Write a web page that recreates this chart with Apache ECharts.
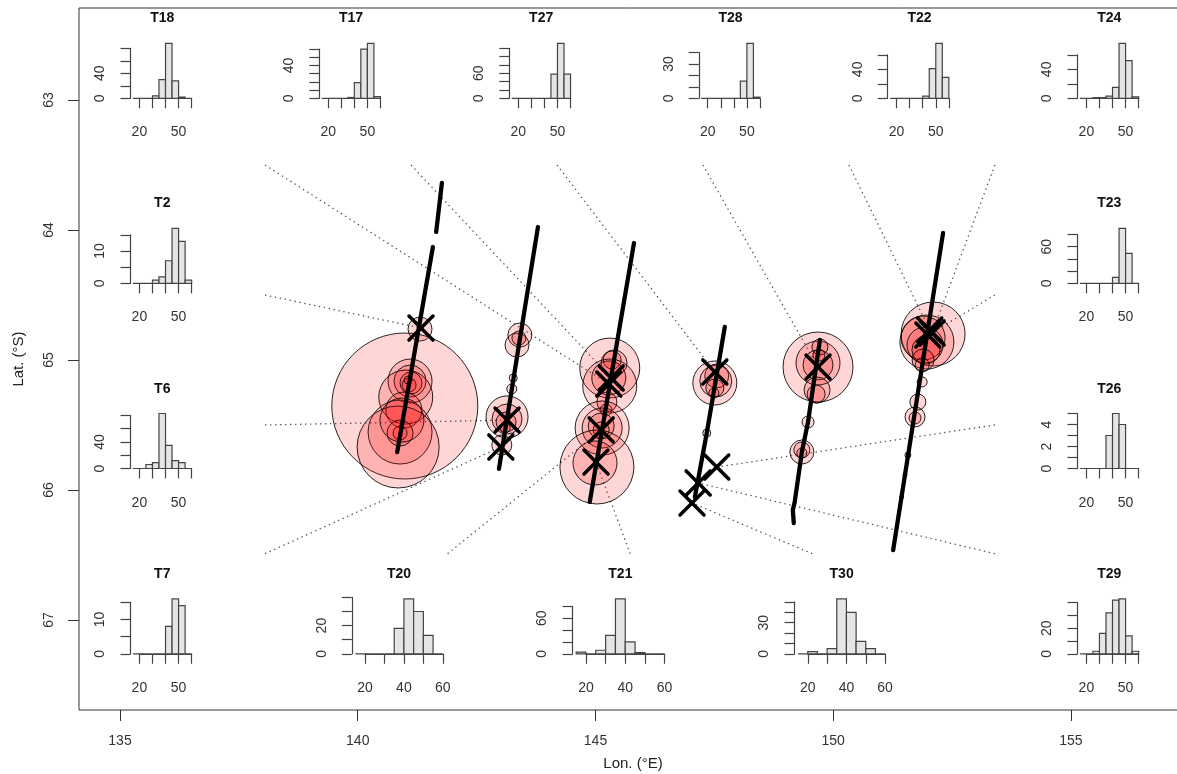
<!DOCTYPE html>
<html>
<head>
<meta charset="utf-8">
<script src="https://cdn.jsdelivr.net/npm/echarts@6/dist/echarts.min.js"></script>
<style>
html,body{margin:0;padding:0;background:#fff;}
#chart{width:1177px;height:774px;}
</style>
</head>
<body>
<div id="chart"></div>
<script>
// ---------- data ----------
// histogram bin breaks shared by every station
const binBreaks = [15, 20, 25, 30, 35, 40, 45, 50, 55, 60];
// counts per bin
const hT18 = [0, 0, 0, 4, 30, 88, 28, 2, 0];
const hT17 = [0, 0, 0, 0, 1, 19, 60, 67, 2];
const hT27 = [0, 0, 0, 0, 0, 0, 58, 132, 58];
const hT28 = [0, 0, 0, 0, 0, 0, 15, 48, 1];
const hT22 = [0, 0, 0, 0, 0, 3, 41, 76, 29];
const hT24 = [0, 0, 1, 1, 3, 15, 76, 52, 2];
const hT2  = [0, 0, 0, 1, 2, 7, 17, 13, 1];
const hT6  = [0, 0, 6, 9, 83, 35, 12, 9, 0];
const hT23 = [0, 0, 0, 0, 0, 10, 90, 49, 0];
const hT26 = [0, 0, 0, 0, 3, 5, 4, 0, 0];
const hT7  = [0, 0, 0, 0, 0, 8, 16, 14, 0];
const hT20 = [0, 0, 0, 0, 18, 39, 30, 13, 0];
const hT21 = [3, 0, 6, 31, 93, 20, 2, 0, 0];
const hT30 = [0, 2, 0, 5, 53, 40, 12, 5, 0];
const hT29 = [0, 0, 2, 16, 32, 42, 43, 14, 2];

const stationNames = ['T18','T17','T27','T28','T22','T24','T2','T6','T23','T26','T7','T20','T21','T30','T29'];
const stationHists = [hT18, hT17, hT27, hT28, hT22, hT24, hT2, hT6, hT23, hT26, hT7, hT20, hT21, hT30, hT29];
// sampling positions (lon °E, lat °S)
const stationLon = [145.28, 145.33, 147.51, 149.68, 152.03, 152.08, 141.33, 143.14, 151.99, 147.55, 143.01, 145.12, 145.01, 147.03, 147.16];
const stationLat = [65.185, 65.138, 65.092, 65.054, 64.769, 64.792, 64.754, 65.462, 64.808, 65.823, 65.669, 65.538, 65.785, 66.100, 65.946];
// where each station's leader line starts
const leaderLon = [138.05, 141.12, 144.19, 147.26, 150.33, 153.40, 138.05, 138.05, 153.40, 153.40, 138.05, 141.89, 145.73, 149.56, 153.40];
const leaderLat = [63.5, 63.5, 63.5, 63.5, 63.5, 63.5, 64.5, 65.5, 64.5, 65.5, 66.49, 66.49, 66.49, 66.49, 66.49];

// y tick spacing, top tick and labelled ticks of each histogram
const yTickStep = [20, 10, 20, 10, 20, 20, 5, 20, 20, 1, 5, 10, 20, 10, 10];
const yTickTop  = [80, 60, 120, 40, 60, 60, 15, 80, 80, 5, 15, 40, 80, 50, 40];
const yTickLabels = [[0,40],[0,40],[0,60],[0,30],[0,40],[0,40],[0,10],[0,40],[0,60],[0,2,4],[0,10],[0,20],[0,60],[0,30],[0,20]];
const xTickValues = [20, 30, 40, 50, 60];
const xTickLabelsNarrow = [20, 50];
const xTickLabelsWide = [20, 40, 60];

// ship tracks (lon, lat); a track may have several pieces
const trackPieces = [
  [[141.77, 63.638], [141.65, 64.015]],
  [[141.58, 64.131], [140.83, 65.708]],
  [[143.79, 63.977], [142.97, 65.838]],
  [[145.81, 64.100], [144.88, 66.092]],
  [[147.72, 64.746], [147.34, 65.562], [147.09, 66.054]],
  [[149.72, 64.846], [149.47, 65.477], [149.34, 65.708], [149.19, 66.092], [149.15, 66.154], [149.17, 66.254]],
  [[152.31, 64.023], [151.26, 66.462]]
];

// acoustic densities along the tracks: [lon, lat, density]
const densityA = [
  [141.31,64.762,12],[140.99,65.354,73],[141.10,65.162,22],[141.10,65.162,16],[141.12,65.177,11],
  [141.08,65.192,7],[141.06,65.154,4],[141.01,65.285,27],[140.97,65.385,18],[140.89,65.554,32],
  [140.85,65.669,41],[140.89,65.562,13],[140.89,65.562,7],[140.93,65.462,22]
];
const densityB = [
  [143.41,64.808,12],[143.35,64.885,12],[143.39,64.831,7],[143.27,65.138,4],[143.24,65.223,5],
  [143.14,65.438,21],[143.14,65.454,15],[143.12,65.477,10],[143.10,65.523,5],[143.03,65.654,10]
];
const densityC = [
  [145.30,65.062,30],[145.39,65.023,13],[145.35,65.000,9],[145.30,65.200,27],[145.28,65.138,17],
  [145.24,65.323,10],[145.22,65.385,6],[145.14,65.523,27],[145.14,65.523,20],[145.12,65.508,13],
  [145.12,65.538,8],[145.03,65.823,37],[144.99,65.792,22]
];
const densityD = [
  [147.51,65.177,22],[147.55,65.123,12],[147.53,65.162,16],[147.51,65.215,9],[147.49,65.254,5],[147.34,65.562,4]
];
const densityE = [
  [149.68,65.054,35],[149.68,65.023,22],[149.68,65.038,15],[149.72,64.900,8],[149.70,64.962,6],
  [149.66,65.231,13],[149.64,65.262,9],[149.47,65.477,6],[149.34,65.708,12],[149.34,65.692,8],[149.34,65.715,5]
];
const densityF = [
  [152.10,64.800,32],[151.97,64.862,27],[151.89,64.831,22],[151.93,64.885,18],[151.95,64.923,14],
  [151.89,65.000,11],[151.87,65.038,7],[151.87,65.169,5],[151.78,65.323,8],[151.72,65.438,10],
  [151.72,65.446,6],[151.57,65.731,3],[151.51,65.885,2],[151.44,66.054,2]
];

const lonTicks = [135, 140, 145, 150, 155];
const latTicks = [63, 64, 65, 66, 67];

// ---------- layout ----------
const FONT = 'Liberation Sans, Arial, Helvetica, sans-serif';
const MAIN = { left: 79, top: 8, width: 1108, height: 702 };
const LON_RANGE = [134.138, 157.440];
const LAT_RANGE = [62.2923, 67.6923];
const INSET_H = 59.4;
const insetBox = {
  T18: [130.5, 100.5, 63.5], T17: [319.3, 100.5, 63.5], T27: [509.4, 100.5, 63.5],
  T28: [698.8, 100.5, 63.5], T22: [887.7, 100.5, 63.5], T24: [1077.5, 100.5, 63.5],
  T2:  [130.5, 285.6, 63.5], T6:  [130.5, 470.7, 63.5],
  T23: [1077.5, 285.6, 63.5], T26: [1077.5, 470.7, 63.5],
  T7:  [130.5, 656.0, 63.5], T20: [351.8, 656.0, 94.5], T21: [572.6, 656.0, 95.5],
  T30: [794.6, 656.0, 94.0], T29: [1077.5, 656.0, 63.5]
};
const wideInsets = ['T20', 'T21', 'T30'];

const axisColor = '#444';
const grids = [{ left: MAIN.left, top: MAIN.top, width: MAIN.width, height: MAIN.height,
  outerBoundsMode: 'none', containLabel: false,
  show: true, borderColor: '#333', borderWidth: 1, backgroundColor: 'transparent' }];
const xAxes = [{
  type: 'value', gridIndex: 0, min: LON_RANGE[0], max: LON_RANGE[1],
  axisLine: { show: false },
  axisTick: { show: true, customValues: lonTicks, length: 11, lineStyle: { color: '#333', width: 1 } },
  axisLabel: { show: true, customValues: lonTicks, margin: 24, fontSize: 14, color: '#333', fontFamily: FONT },
  splitLine: { show: false },
  name: 'Lon. (°E)', nameLocation: 'middle', nameGap: 46,
  nameTextStyle: { fontSize: 15, color: '#222', fontFamily: FONT }
}];
const yAxes = [{
  type: 'value', gridIndex: 0, min: LAT_RANGE[0], max: LAT_RANGE[1], inverse: true,
  axisLine: { show: false },
  axisTick: { show: true, customValues: latTicks, length: 11, lineStyle: { color: '#333', width: 1 } },
  axisLabel: { show: true, customValues: latTicks, margin: 23, rotate: 90, fontSize: 14, color: '#333', fontFamily: FONT },
  splitLine: { show: false },
  name: 'Lat. (°S)', nameLocation: 'middle', nameGap: 53, nameRotate: 90,
  nameTextStyle: { fontSize: 15, color: '#222', fontFamily: FONT }
}];
const titles = [];
const series = [];

// ---------- main map ----------
// leader lines from each histogram to its station
stationNames.forEach((nm, i) => {
  series.push({
    type: 'line', xAxisIndex: 0, yAxisIndex: 0, silent: true, symbol: 'none',
    data: [[leaderLon[i], leaderLat[i]], [stationLon[i], stationLat[i]]],
    lineStyle: { color: '#555', width: 1.3, type: [1.4, 3.6] }, z: 1
  });
});

// density bubbles
[densityA, densityB, densityC, densityD, densityE, densityF].forEach(arr => {
  series.push({
    type: 'scatter', xAxisIndex: 0, yAxisIndex: 0, silent: true,
    data: arr, symbol: 'circle', symbolSize: v => 2 * v[2],
    itemStyle: { color: 'rgba(255,0,0,0.16)', borderColor: 'rgba(0,0,0,0.85)', borderWidth: 1, opacity: 1 },
    z: 2
  });
});

// tracks
trackPieces.forEach(piece => {
  series.push({
    type: 'line', xAxisIndex: 0, yAxisIndex: 0, silent: true, symbol: 'none',
    data: piece, lineStyle: { color: '#000', width: 4.3, cap: 'round', join: 'round' }, z: 3
  });
});

// station crosses
series.push({
  type: 'custom', xAxisIndex: 0, yAxisIndex: 0, silent: true, z: 4,
  data: stationLon.map((lon, i) => [lon, stationLat[i]]),
  encode: { x: 0, y: 1 },
  renderItem: (params, api) => {
    const p = api.coord([api.value(0), api.value(1)]);
    const s = 12;
    const st = { stroke: '#000', lineWidth: 3.5, lineCap: 'round' };
    return { type: 'group', children: [
      { type: 'line', shape: { x1: p[0] - s, y1: p[1] - s, x2: p[0] + s, y2: p[1] + s }, style: st },
      { type: 'line', shape: { x1: p[0] - s, y1: p[1] + s, x2: p[0] + s, y2: p[1] - s }, style: st }
    ] };
  }
});

// ---------- histograms ----------
const binSpan = binBreaks[binBreaks.length - 1] - binBreaks[0];
const X_MIN = binBreaks[0] - 0.04 * binSpan;
const X_MAX = binBreaks[binBreaks.length - 1] + 0.04 * binSpan;

stationNames.forEach((nm, i) => {
  const [L, base, W] = insetBox[nm];
  const hist = stationHists[i];
  const kx = W / (X_MAX - X_MIN);
  const ymax = Math.max.apply(null, hist);
  const ky = INSET_H / (1.08 * ymax);
  const tx0 = xTickValues[0], tx1 = xTickValues[xTickValues.length - 1];
  const gLeft = L + (tx0 - X_MIN) * kx;
  const gBottom = base - 0.04 * ymax * ky;
  const gH = yTickTop[i] * ky;
  const gi = grids.length;
  grids.push({ left: gLeft, top: gBottom - gH, width: (tx1 - tx0) * kx, height: gH,
    outerBoundsMode: 'none', containLabel: false, show: false });

  const yTicks = [];
  for (let v = 0; v <= yTickTop[i] + 1e-9; v += yTickStep[i]) yTicks.push(v);

  xAxes.push({
    type: 'value', gridIndex: gi, min: tx0, max: tx1, offset: 0.04 * ymax * ky,
    axisLine: { show: true, lineStyle: { color: axisColor, width: 1.2 } },
    axisTick: { show: true, customValues: xTickValues, length: 10, lineStyle: { color: axisColor, width: 1.2 } },
    axisLabel: { show: true, customValues: wideInsets.includes(nm) ? xTickLabelsWide : xTickLabelsNarrow,
      margin: 25, fontSize: 14, color: '#333', fontFamily: FONT },
    splitLine: { show: false }
  });
  yAxes.push({
    type: 'value', gridIndex: gi, min: 0, max: yTickTop[i], offset: (tx0 - X_MIN) * kx,
    axisLine: { show: true, lineStyle: { color: axisColor, width: 1.2 } },
    axisTick: { show: true, customValues: yTicks, length: 10, lineStyle: { color: axisColor, width: 1.2 } },
    axisLabel: { show: true, customValues: yTickLabels[i], rotate: 90, margin: 23,
      fontSize: 14, color: '#333', fontFamily: FONT },
    splitLine: { show: false }
  });
  series.push({
    type: 'custom', xAxisIndex: gi, yAxisIndex: gi, silent: true, clip: false, z: 5,
    data: hist.map((c, j) => [binBreaks[j], binBreaks[j + 1], c]),
    encode: { x: [0, 1], y: 2 },
    renderItem: (params, api) => {
      const p0 = api.coord([api.value(0), 0]);
      const p1 = api.coord([api.value(1), api.value(2)]);
      return { type: 'rect',
        shape: { x: p0[0], y: p1[1], width: p1[0] - p0[0], height: p0[1] - p1[1] },
        style: { fill: '#e5e5e5', stroke: '#444', lineWidth: 1.2 } };
    }
  });
  titles.push({
    text: nm, left: L + W / 2, top: base - 89, textAlign: 'center', padding: 0,
    textStyle: { fontSize: 14, fontWeight: 'bold', color: '#111', fontFamily: FONT }
  });
});

const chart = echarts.init(document.getElementById('chart'), null, { renderer: 'canvas' });
chart.setOption({
  animation: false,
  backgroundColor: '#fff',
  title: titles,
  grid: grids,
  xAxis: xAxes,
  yAxis: yAxes,
  series: series
});
</script>
</body>
</html>
